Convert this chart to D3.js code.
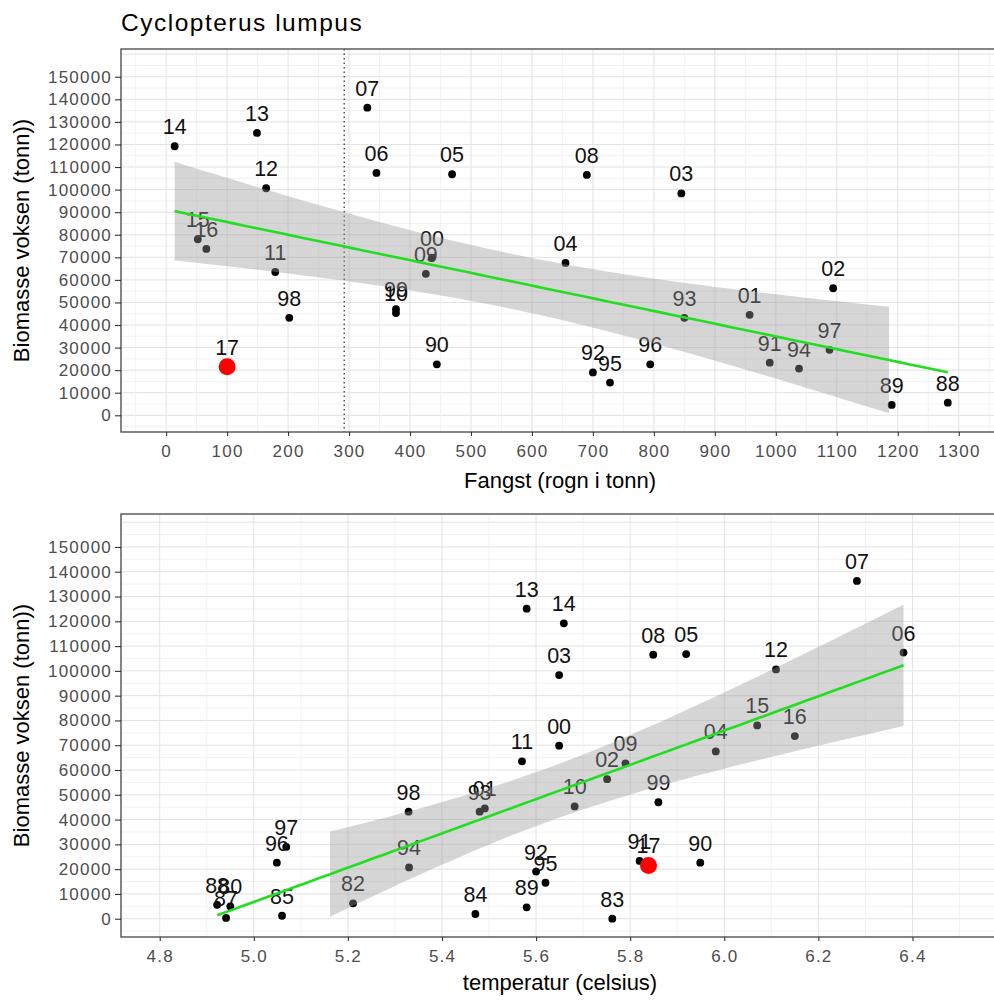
<!DOCTYPE html>
<html>
<head>
<meta charset="utf-8">
<script src="https://cdn.jsdelivr.net/npm/d3@7"></script>
<style>
  html, body { margin: 0; padding: 0; background: #fff; }
  svg { display: block; font-family: "Liberation Sans", Arial, sans-serif; }
</style>
</head>
<body>
<svg id="chart" width="994" height="1001"></svg>
<script>
// year labels (two digits), 1980-2017
const years = ["80", "82", "83", "84", "85", "87",
  "88", "89", "90", "91", "92", "93", "94", "95", "96", "97", "98", "99",
  "00", "01", "02", "03", "04", "05", "06", "07", "08", "09",
  "10", "11", "12", "13", "14", "15", "16", "17"];

// adult biomass (tonn)
const biomasse = [5000, 6200, 0, 1900, 1200, 300,
  5600, 4600, 22600, 23300, 19000, 43200, 20700, 14500, 22600, 29000, 43200, 47000,
  69800, 44500, 56300, 98300, 67500, 106800, 107400, 136300, 106500, 62700,
  45300, 63500, 100600, 125100, 119200, 78000, 73700, 21500];

// catch (roe, tonn) - none before 1988
const fangst = [null, null, null, null, null, null,
  1282, 1190, 444, 990, 700, 850, 1038, 728, 794, 1088, 202, 377,
  436, 957, 1094, 845, 655, 469, 345, 330, 690, 426,
  377, 179, 164, 149, 14, 52, 66, 100];

// temperature (celsius)
const temperatur = [4.950, 5.211, 5.762, 5.471, 5.060, 4.941,
  4.922, 5.580, 5.949, 5.820, 5.600, 5.480, 5.330, 5.620, 5.049, 5.069, 5.329, 5.860,
  5.649, 5.491, 5.751, 5.649, 5.982, 5.919, 6.381, 6.282, 5.849, 5.790,
  5.682, 5.570, 6.110, 5.580, 5.659, 6.070, 6.150, 5.839];

const highlightYear = "17";
const fangstLimit = 292;

const yTicks = d3.range(0, 150001, 10000);
const fangstTicks = d3.range(0, 1301, 100);
const tempTicks = [4.8, 5.0, 5.2, 5.4, 5.6, 5.8, 6.0, 6.2, 6.4];

const svg = d3.select("#chart");

svg.append("text")
  .attr("x", 121)
  .attr("y", 31)
  .attr("font-size", 24.5)
  .attr("letter-spacing", 1.5)
  .attr("fill", "#000")
  .text("Cyclopterus lumpus");

// t quantile (0.975) approximation
const tq = (df) => {
  const z = 1.959964;
  return z + (z ** 3 + z) / (4 * df) +
    (5 * z ** 5 + 16 * z ** 3 + 3 * z) / (96 * df * df);
};

// linear fit with 95% confidence band, like geom_smooth(method = "lm")
const fitLm = (pts) => {
  const n = pts.length;
  const mx = d3.mean(pts, (d) => d.x);
  const my = d3.mean(pts, (d) => d.y);
  const sxx = d3.sum(pts, (d) => (d.x - mx) ** 2);
  const sxy = d3.sum(pts, (d) => (d.x - mx) * (d.y - my));
  const b = sxy / sxx;
  const a = my - b * mx;
  const s = Math.sqrt(d3.sum(pts, (d) => (d.y - a - b * d.x) ** 2) / (n - 2));
  const t = tq(n - 2);
  const [x0, x1] = d3.extent(pts, (d) => d.x);
  return d3.range(80).map((i) => {
    const xv = x0 + (i / 79) * (x1 - x0);
    const fit = a + b * xv;
    const se = s * Math.sqrt(1 / n + (xv - mx) ** 2 / sxx);
    return { x: xv, fit, lo: fit - t * se, hi: fit + t * se };
  });
};

const drawPanel = (cfg, id) => {
  const x = d3.scaleLinear().domain(cfg.xDomain).range([121, 999]);
  const y = d3.scaleLinear().domain(cfg.yDomain).range([cfg.bottom, cfg.top]);
  const g = svg.append("g");

  g.append("clipPath")
    .attr("id", "clip" + id)
    .append("rect")
    .attr("x", 121)
    .attr("y", cfg.top)
    .attr("width", 878)
    .attr("height", cfg.bottom - cfg.top);

  const plot = g.append("g").attr("clip-path", `url(#clip${id})`);

  // grid
  plot.selectAll(".gy")
    .data(d3.range(-5000, 160001, 5000))
    .enter()
    .append("line")
    .attr("x1", 121)
    .attr("x2", 999)
    .attr("y1", (d) => y(d))
    .attr("y2", (d) => y(d))
    .attr("stroke", (d) => (d % 10000 === 0 ? "#e2e2e2" : "#ececec"))
    .attr("stroke-width", (d) => (d % 10000 === 0 ? 1 : 0.7));

  plot.selectAll(".gx")
    .data(cfg.xGrid)
    .enter()
    .append("line")
    .attr("x1", (d) => x(d.v))
    .attr("x2", (d) => x(d.v))
    .attr("y1", cfg.top)
    .attr("y2", cfg.bottom)
    .attr("stroke", (d) => (d.major ? "#e2e2e2" : "#ececec"))
    .attr("stroke-width", (d) => (d.major ? 1 : 0.7));

  if (cfg.vline != null) {
    plot.append("line")
      .attr("x1", x(cfg.vline))
      .attr("x2", x(cfg.vline))
      .attr("y1", cfg.top)
      .attr("y2", cfg.bottom)
      .attr("stroke", "#000")
      .attr("stroke-width", 1)
      .attr("stroke-dasharray", "1.5,3");
  }

  // points and labels
  plot.selectAll(".pt")
    .data(cfg.data)
    .enter()
    .append("circle")
    .attr("cx", (d) => x(d.x))
    .attr("cy", (d) => y(d.y))
    .attr("r", (d) => (d.label === highlightYear ? 8.5 : 3.9))
    .attr("fill", (d) => (d.label === highlightYear ? "#ff0000" : "#000"));

  plot.selectAll(".lab")
    .data(cfg.data)
    .enter()
    .append("text")
    .attr("x", (d) => x(d.x))
    .attr("y", (d) => y(d.y) - 12)
    .attr("text-anchor", "middle")
    .attr("font-size", 21.5)
    .attr("fill", "#111")
    .text((d) => d.label);

  // smooth
  const fit = fitLm(cfg.data);
  const band = fit.filter((d) => d.lo >= 0 && d.hi <= 155000);
  plot.append("path")
    .datum(band)
    .attr("fill", "#999999")
    .attr("fill-opacity", 0.4)
    .attr("d", d3.area().x((d) => x(d.x)).y0((d) => y(d.lo)).y1((d) => y(d.hi)));
  plot.append("path")
    .datum(fit)
    .attr("fill", "none")
    .attr("stroke", "#22dd22")
    .attr("stroke-width", 2.6)
    .attr("d", d3.line().x((d) => x(d.x)).y((d) => y(d.fit)));

  // border
  g.append("rect")
    .attr("x", 121)
    .attr("y", cfg.top)
    .attr("width", 900)
    .attr("height", cfg.bottom - cfg.top)
    .attr("fill", "none")
    .attr("stroke", "#444")
    .attr("stroke-width", 1.3);

  // axes
  const yAxis = g.append("g")
    .attr("transform", "translate(121,0)")
    .call(d3.axisLeft(y).tickValues(yTicks).tickSize(6).tickPadding(3).tickFormat(d3.format("d")));
  const xAxis = g.append("g")
    .attr("transform", `translate(0,${cfg.bottom})`)
    .call(d3.axisBottom(x).tickValues(cfg.xTicks).tickSize(4).tickPadding(9).tickFormat(cfg.xFormat));
  [yAxis, xAxis].forEach((ax) => {
    ax.select(".domain").remove();
    ax.selectAll(".tick line").attr("stroke", "#333").attr("stroke-width", 1.1);
    ax.selectAll("text")
      .attr("fill", "#4d4d4d")
      .attr("font-size", 17)
      .attr("letter-spacing", 1.2)
      .attr("font-family", "Liberation Sans, Arial, sans-serif");
  });

  g.append("text")
    .attr("x", 560)
    .attr("y", cfg.xTitleY)
    .attr("text-anchor", "middle")
    .attr("font-size", 22)
    .attr("fill", "#000")
    .text(cfg.xTitle);

  g.append("text")
    .attr("transform", `translate(29,${(cfg.top + cfg.bottom) / 2}) rotate(-90)`)
    .attr("text-anchor", "middle")
    .attr("font-size", 22)
    .attr("fill", "#000")
    .text("Biomasse voksen (tonn))");
};

const fangstData = years
  .map((label, i) => ({ label, x: fangst[i], y: biomasse[i] }))
  .filter((d) => d.x != null);
const tempData = years.map((label, i) => ({ label, x: temperatur[i], y: biomasse[i] }));

drawPanel({
  top: 49,
  bottom: 432,
  xDomain: [-74, 1366],
  yDomain: [-7400, 162300],
  xTicks: fangstTicks,
  xGrid: d3.range(-50, 1351, 50).map((v) => ({ v, major: v % 100 === 0 })),
  xFormat: d3.format("d"),
  vline: fangstLimit,
  data: fangstData,
  xTitle: "Fangst (rogn i tonn)",
  xTitleY: 488,
}, 1);

drawPanel({
  top: 514,
  bottom: 937,
  xDomain: [4.7177, 6.584],
  yDomain: [-7380, 163300],
  xTicks: tempTicks,
  xGrid: d3.range(48, 66).map((v) => ({ v: v / 10, major: v % 2 === 0 })),
  xFormat: d3.format(".1f"),
  vline: null,
  data: tempData,
  xTitle: "temperatur (celsius)",
  xTitleY: 990,
}, 2);
</script>
</body>
</html>
